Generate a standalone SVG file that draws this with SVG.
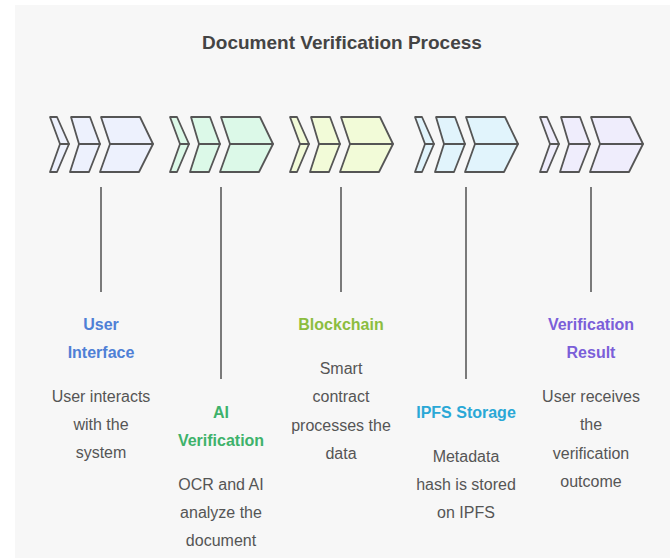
<svg xmlns="http://www.w3.org/2000/svg" width="670" height="558" viewBox="0 0 670 558">
  <style>
    .bg { fill: #f7f7f7; }
    .chev { stroke: #555555; stroke-width: 1.8; stroke-linejoin: round; }
    .link { stroke: #5a5a5a; stroke-width: 1.6; fill: none; }
    .title { font-family: "Liberation Sans", Arial, sans-serif; font-size: 19px; font-weight: bold; fill: #444444; text-anchor: middle; }
    .head { font-family: "Liberation Sans", Arial, sans-serif; font-size: 16px; font-weight: bold; text-anchor: middle; }
    .desc { font-family: "Liberation Sans", Arial, sans-serif; font-size: 16px; fill: #555555; text-anchor: middle; }
    .c1 { fill: #edf1fd; } .t1 { fill: #4f80d6; }
    .c2 { fill: #dcf9e8; } .t2 { fill: #3eb26b; }
    .c3 { fill: #f2fbd8; } .t3 { fill: #8cbd3f; }
    .c4 { fill: #e1f4fc; } .t4 { fill: #2aa8d6; }
    .c5 { fill: #efedfc; } .t5 { fill: #7b5fd9; }
  </style>
  <defs>
    <!-- one stage marker: three chevrons, each split into upper and lower halves -->
    <g id="chevrons">
      <polygon points="0,117 7,117 19,144 10,144"/>
      <polygon points="10,144 19,144 7,172 0,172"/>
      <polygon points="21,117 40,117 50,144 29,144"/>
      <polygon points="29,144 50,144 39,172 20,172"/>
      <polygon points="51,117 90,117 103,144 60,144"/>
      <polygon points="60,144 103,144 89,172 50,172"/>
    </g>
  </defs>

  <rect class="bg" x="15" y="5" width="655" height="553"/>
  <text class="title" x="342" y="49">Document Verification Process</text>

  <g id="connectors">
    <line class="link" x1="101" y1="187" x2="101" y2="292"/>
    <line class="link" x1="221" y1="187" x2="221" y2="379"/>
    <line class="link" x1="341" y1="187" x2="341" y2="292"/>
    <line class="link" x1="466" y1="187" x2="466" y2="379"/>
    <line class="link" x1="591" y1="187" x2="591" y2="292"/>
  </g>

  <g id="user-interface">
    <use href="#chevrons" class="chev c1" x="50"/>
    <text class="head t1" x="101" y="330">User</text>
    <text class="head t1" x="101" y="358">Interface</text>
    <text class="desc" x="101" y="402">User interacts</text>
    <text class="desc" x="101" y="430">with the</text>
    <text class="desc" x="101" y="458">system</text>
  </g>

  <g id="ai-verification">
    <use href="#chevrons" class="chev c2" x="170"/>
    <text class="head t2" x="221" y="418">AI</text>
    <text class="head t2" x="221" y="446">Verification</text>
    <text class="desc" x="221" y="490">OCR and AI</text>
    <text class="desc" x="221" y="518">analyze the</text>
    <text class="desc" x="221" y="546">document</text>
  </g>

  <g id="blockchain">
    <use href="#chevrons" class="chev c3" x="290"/>
    <text class="head t3" x="341" y="330">Blockchain</text>
    <text class="desc" x="341" y="374">Smart</text>
    <text class="desc" x="341" y="402">contract</text>
    <text class="desc" x="341" y="431">processes the</text>
    <text class="desc" x="341" y="459">data</text>
  </g>

  <g id="ipfs-storage">
    <use href="#chevrons" class="chev c4" x="415"/>
    <text class="head t4" x="466" y="418">IPFS Storage</text>
    <text class="desc" x="466" y="462">Metadata</text>
    <text class="desc" x="466" y="490">hash is stored</text>
    <text class="desc" x="466" y="518">on IPFS</text>
  </g>

  <g id="verification-result">
    <use href="#chevrons" class="chev c5" x="540"/>
    <text class="head t5" x="591" y="330">Verification</text>
    <text class="head t5" x="591" y="358">Result</text>
    <text class="desc" x="591" y="402">User receives</text>
    <text class="desc" x="591" y="430">the</text>
    <text class="desc" x="591" y="459">verification</text>
    <text class="desc" x="591" y="487">outcome</text>
  </g>
</svg>
